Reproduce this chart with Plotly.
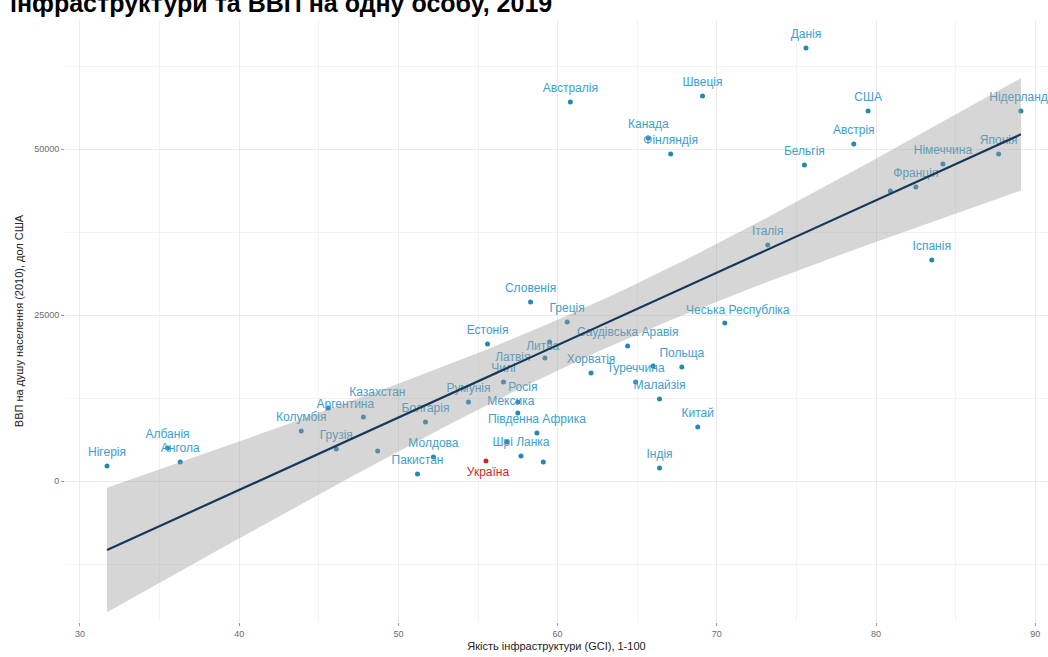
import numpy as np
import plotly.graph_objects as go

# Countries: infrastructure quality (GCI, 1-100) vs GDP per capita (2010 USD)
countries = [
    "Нігерія", "Албанія", "Ангола", "Колумбія", "Казахстан", "Аргентина",
    "Грузія", "Вірменія", "Болгарія", "Пакистан", "Молдова", "Україна",
    "Румунія", "Чилі", "Росія", "Мексика", "Південна Африка", "Перу",
    "Шрі Ланка", "Єгипет", "Естонія", "Литва", "Латвія", "Словенія",
    "Греція", "Саудівська Аравія", "Хорватія", "Чеська Республіка", "Польща",
    "Угорщина", "Туреччина", "Малайзія", "Китай", "Індія", "Австралія",
    "Швеція", "Канада", "Фінляндія", "Данія", "США", "Нідерланди",
    "Австрія", "Бельгія", "Німеччина", "Японія", "Франція",
    "Велика Британія", "Італія", "Іспанія",
]
infra = [
    31.7, 35.5, 36.3, 43.9, 45.6, 47.8,
    46.1, 48.7, 51.7, 51.2, 52.2, 55.5,
    54.4, 56.6, 57.5, 57.5, 58.7, 56.8,
    57.7, 59.1, 55.6, 59.5, 59.2, 58.3,
    60.6, 64.4, 62.1, 70.5, 67.8,
    66.0, 64.9, 66.4, 68.8, 66.4, 60.8,
    69.1, 65.7, 67.1, 75.6, 79.5, 89.1,
    78.6, 75.5, 84.2, 87.7, 82.5,
    80.9, 73.2, 83.5,
]
gdp = [
    2260, 4970, 2860, 7530, 10990, 9640,
    4820, 4520, 8890, 1050, 3610, 3010,
    11900, 14910, 11900, 10240, 7230, 5870,
    3770, 2860, 20630, 20930, 18520, 26960,
    23950, 20330, 16270, 23800, 17170,
    17320, 14910, 12350, 8130, 1960, 57080,
    57980, 51660, 49250, 65210, 55720, 55720,
    50750, 47590, 47740, 49250, 44280,
    43670, 35540, 33280,
]
# ggrepel dropped these labels in the original
hidden_labels = {"Вірменія", "Перу", "Єгипет", "Угорщина", "Велика Британія"}
highlight = "Україна"

x_ticks = [30, 40, 50, 60, 70, 80, 90]
y_ticks = [0, 25000, 50000]
y_ticktext = ["0", "25000", "50000"]

TITLE = "інфраструктури та ВВП на одну особу, 2019"
X_TITLE = "Якість інфраструктури (GCI), 1-100"
Y_TITLE = "ВВП на душу населення (2010), дол США"

# label nudges in pixels (dx right, dy down); default sits above the point
default_nudge = (0, -13)
nudges = {
    "Казахстан": (49, -15),
    "Аргентина": (-18, -12),
    "Україна": (2, 12),
    "Росія": (5, -14),
    "Мексика": (-7, -11),
    "Литва": (-7, 5),
    "Латвія": (-32, 0),
    "Чеська Республіка": (13, -12),
    "Нідерланди": (1, -13),
}

W, H = 1048, 657
M = dict(l=65, r=0, t=20, b=35)
X_RANGE = [29.06, 90.8]
Y_RANGE = [-21235, 69427]
ux = (X_RANGE[1] - X_RANGE[0]) / (W - M["l"] - M["r"])
uy = (Y_RANGE[1] - Y_RANGE[0]) / (H - M["t"] - M["b"])

POINT_COL = "#2389b0"
LABEL_COL = "#3da0cc"
UA_COL = "#c42b2f"

x = np.array(infra, dtype=float)
y = np.array(gdp, dtype=float)

# lm fit with 95% confidence band (geom_smooth(method = "lm"))
n = len(x)
b1, b0 = np.polyfit(x, y, 1)
xs = np.linspace(x.min(), x.max(), 80)
fit = b0 + b1 * xs
resid = y - (b0 + b1 * x)
s = np.sqrt((resid ** 2).sum() / (n - 2))
se = s * np.sqrt(1 / n + (xs - x.mean()) ** 2 / ((x - x.mean()) ** 2).sum())
t_crit = 2.01
upper = fit + t_crit * se
lower = fit - t_crit * se

fig = go.Figure()

cols = [UA_COL if c == highlight else POINT_COL for c in countries]
fig.add_trace(go.Scatter(
    x=x, y=y, mode="markers",
    marker=dict(size=5, color=cols),
    hovertext=countries, hoverinfo="text",
))

lx, ly, lt, lc = [], [], [], []
for c, xi, yi in zip(countries, infra, gdp):
    if c in hidden_labels:
        continue
    dx, dy = nudges.get(c, default_nudge)
    lx.append(xi + dx * ux)
    ly.append(yi - dy * uy)
    lt.append(c)
    lc.append(UA_COL if c == highlight else LABEL_COL)

fig.add_trace(go.Scatter(
    x=lx, y=ly, mode="text", text=lt,
    textposition="middle center",
    textfont=dict(family="Liberation Sans", size=12, color=lc),
    hoverinfo="skip", cliponaxis=False,
))

# confidence ribbon on top of points and labels, like ggplot
fig.add_trace(go.Scatter(
    x=np.concatenate([xs, xs[::-1]]),
    y=np.concatenate([upper, lower[::-1]]),
    fill="toself", fillcolor="rgba(153,153,153,0.4)",
    line=dict(width=0), mode="lines", hoverinfo="skip",
))
fig.add_trace(go.Scatter(
    x=xs, y=fit, mode="lines",
    line=dict(color="#17385a", width=2.2), hoverinfo="skip",
))

axis_common = dict(
    showgrid=True, gridcolor="#ebebeb", gridwidth=0.9,
    zeroline=False, showline=False, automargin=False,
    ticks="outside", ticklen=3, tickcolor="#9a9a9a", tickwidth=1,
    tickfont=dict(family="Liberation Sans", size=9, color="#6b6b6b"),
)

fig.update_layout(
    width=W, height=H, margin=M,
    paper_bgcolor="white", plot_bgcolor="white",
    showlegend=False,
    title=dict(
        text=TITLE, xref="container", x=10 / W, xanchor="left",
        yref="container", y=1 - 3.5 / H, yanchor="middle",
        font=dict(family="Liberation Sans", size=25, color="black", weight="bold"),
    ),
    xaxis=dict(
        axis_common, range=X_RANGE, tickvals=x_ticks,
        minor=dict(dtick=5, tick0=0, showgrid=True, gridcolor="#f3f3f3", gridwidth=0.6, ticks=""),
        title=dict(text=X_TITLE, standoff=4,
                   font=dict(family="Liberation Sans", size=11, color="#222")),
    ),
    yaxis=dict(
        axis_common, range=Y_RANGE, tickvals=y_ticks, ticktext=y_ticktext,
        minor=dict(dtick=12500, tick0=0, showgrid=True, gridcolor="#f3f3f3", gridwidth=0.6, ticks=""),
        title=dict(text=Y_TITLE, standoff=8,
                   font=dict(family="Liberation Sans", size=11, color="#222")),
    ),
)

# page body margin would shift the whole figure by 8px
fig.write_html(
    "out.html",
    config={"displayModeBar": False},
    post_script="document.body.style.margin='0';",
)
